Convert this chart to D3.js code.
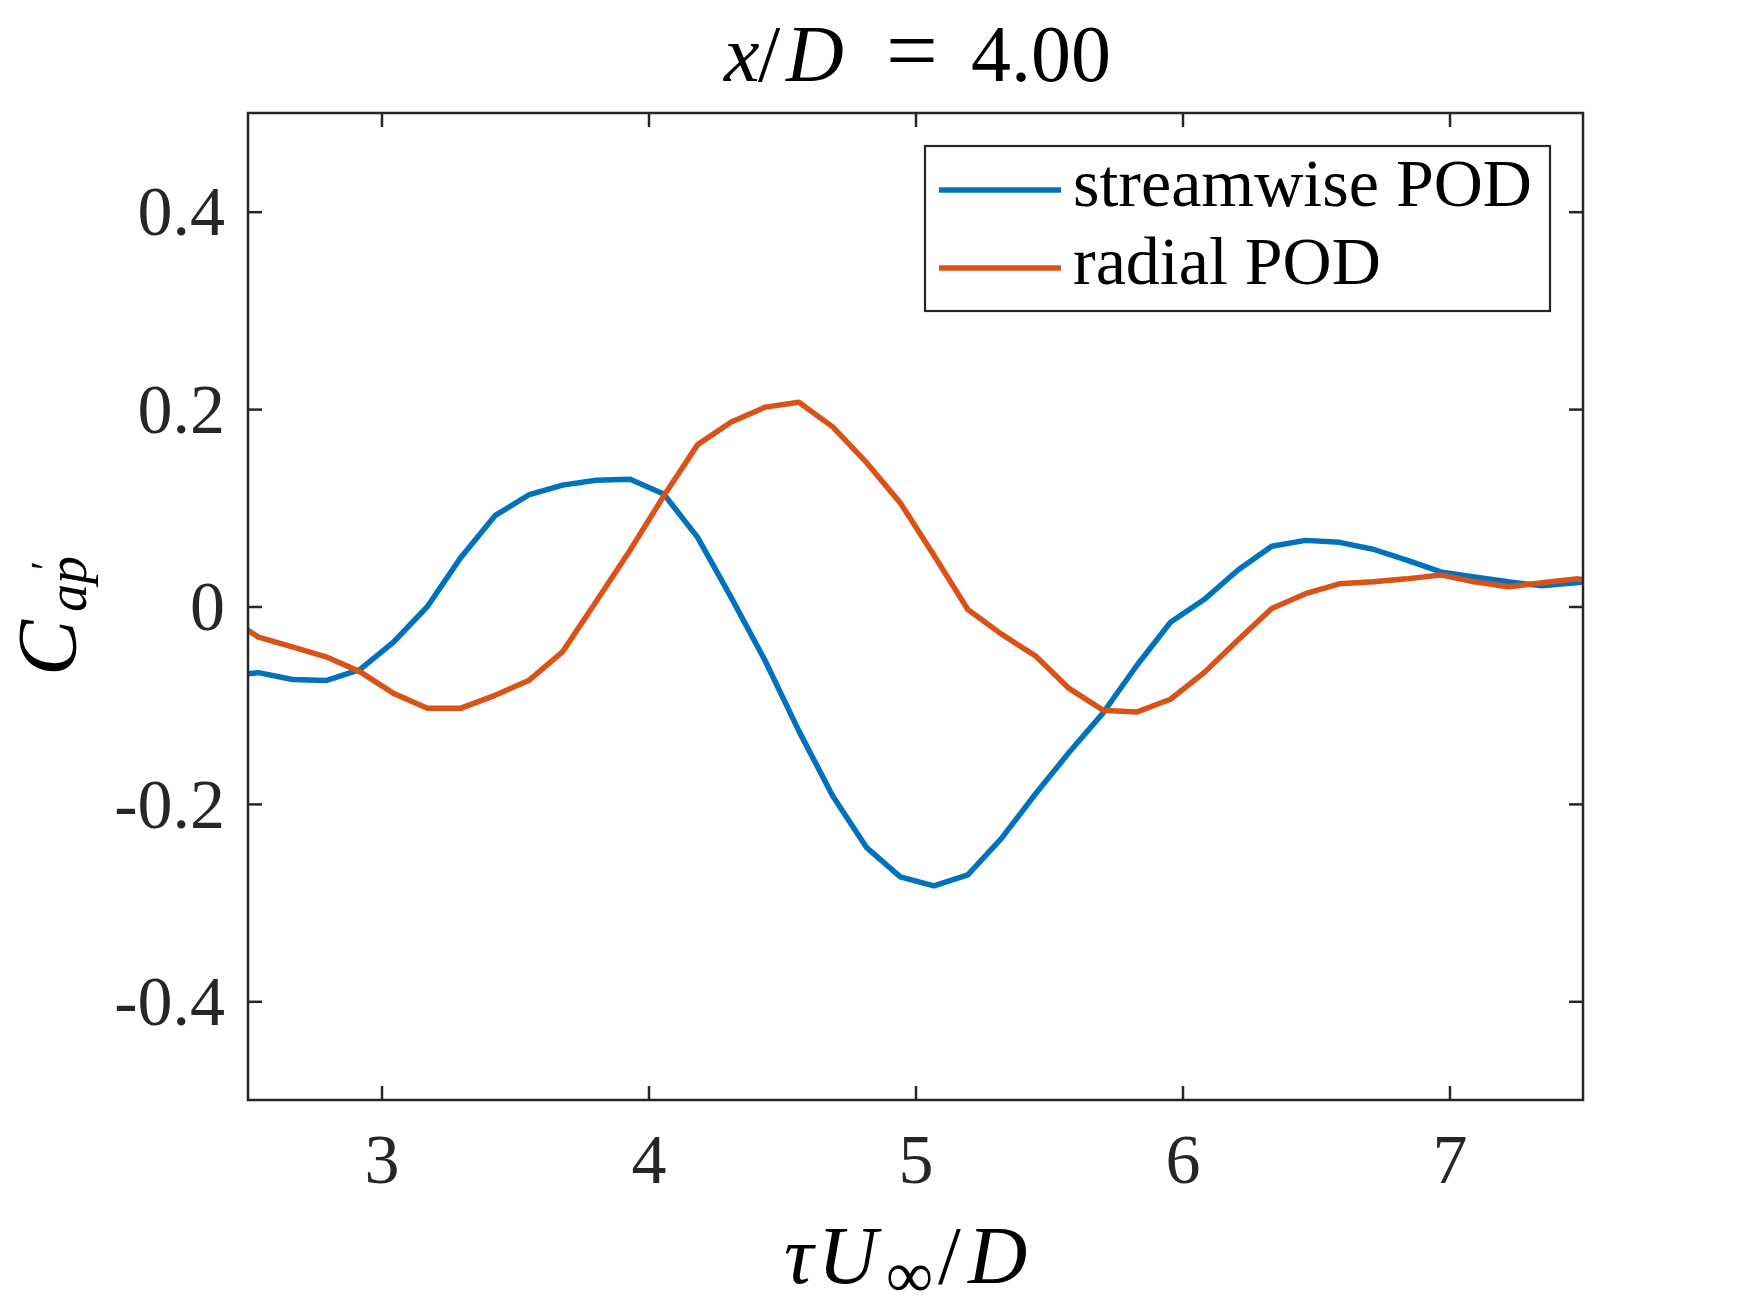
<!DOCTYPE html>
<html>
<head>
<meta charset="utf-8">
<script src="https://cdn.jsdelivr.net/npm/d3@7"></script>
<style>
  body { margin: 0; background: #fff; }
  text { font-family: "Liberation Serif", "DejaVu Serif", serif; }
</style>
</head>
<body>
<script>
// time lag tau*U/D (samples, the first and last fall just outside the axis)
const tau = [2.413, 2.539, 2.666, 2.792, 2.919, 3.045, 3.172, 3.298, 3.425, 3.551,
  3.678, 3.804, 3.931, 4.057, 4.184, 4.310, 4.437, 4.563, 4.690, 4.816,
  4.943, 5.069, 5.196, 5.322, 5.449, 5.575, 5.702, 5.828, 5.955, 6.081,
  6.208, 6.334, 6.461, 6.587, 6.714, 6.840, 6.967, 7.093, 7.220, 7.346,
  7.473, 7.599];

const streamwise = [-0.071, -0.067, -0.074, -0.075, -0.064, -0.036, 0.000, 0.050, 0.092, 0.113,
  0.123, 0.128, 0.129, 0.114, 0.070, 0.009, -0.055, -0.126, -0.192, -0.244,
  -0.274, -0.283, -0.272, -0.235, -0.190, -0.148, -0.108, -0.060, -0.016, 0.007,
  0.037, 0.061, 0.067, 0.065, 0.058, 0.047, 0.035, 0.030, 0.025, 0.021,
  0.024, 0.028];

const radial = [-0.009, -0.031, -0.041, -0.051, -0.066, -0.088, -0.103, -0.103, -0.090, -0.075,
  -0.046, 0.005, 0.057, 0.112, 0.164, 0.187, 0.202, 0.207, 0.182, 0.146,
  0.105, 0.052, -0.003, -0.028, -0.050, -0.083, -0.105, -0.107, -0.094, -0.067,
  -0.034, -0.002, 0.013, 0.023, 0.025, 0.028, 0.032, 0.025, 0.020, 0.024,
  0.028, 0.025];

const seriesNames = ["streamwise POD", "radial POD"];
const seriesColors = ["#0072BD", "#D95319"];
const xTicks = [3, 4, 5, 6, 7];
const yTicks = [-0.4, -0.2, 0, 0.2, 0.4];

const width = 1750;
const height = 1313;
const margin = { top: 113, right: 167, bottom: 213, left: 248 };
const axisColor = "#262626";

const svg = d3.select("body").append("svg")
    .attr("width", width)
    .attr("height", height)
    .attr("viewBox", [0, 0, width, height]);

const x = d3.scaleLinear()
    .domain([2.5, 7.5])
    .range([margin.left, width - margin.right]);

const y = d3.scaleLinear()
    .domain([-0.5, 0.5])
    .range([height - margin.bottom, margin.top]);

// clip the curves to the axes box
svg.append("defs").append("clipPath")
    .attr("id", "plotClip")
  .append("rect")
    .attr("x", x.range()[0])
    .attr("y", y.range()[1])
    .attr("width", x.range()[1] - x.range()[0])
    .attr("height", y.range()[0] - y.range()[1]);

const line = d3.line()
    .x(d => x(d[0]))
    .y(d => y(d[1]));

const series = [streamwise, radial].map((vals, i) => ({
  name: seriesNames[i],
  color: seriesColors[i],
  points: vals.map((v, j) => [tau[j], v])
}));

svg.append("g")
    .attr("clip-path", "url(#plotClip)")
  .selectAll("path")
  .data(series)
  .join("path")
    .attr("fill", "none")
    .attr("stroke", d => d.color)
    .attr("stroke-width", 5.5)
    .attr("stroke-linejoin", "round")
    .attr("d", d => line(d.points));

// axes, ticks pointing inward on all four sides
const tickLen = 14;

const xAxis = svg.append("g")
    .attr("transform", `translate(0,${y.range()[0]})`)
    .call(d3.axisBottom(x).tickValues(xTicks).tickSize(-tickLen).tickSizeOuter(0)
      .tickFormat(d => String(d)));
xAxis.selectAll("text")
    .attr("y", 83)
    .attr("dy", null)
    .attr("font-size", 70);

svg.append("g")
    .attr("transform", `translate(0,${y.range()[1]})`)
    .call(d3.axisTop(x).tickValues(xTicks).tickSize(-tickLen).tickSizeOuter(0).tickFormat(""));

const yAxis = svg.append("g")
    .attr("transform", `translate(${x.range()[0]},0)`)
    .call(d3.axisLeft(y).tickValues(yTicks).tickSize(-tickLen).tickSizeOuter(0)
      .tickPadding(23).tickFormat(d => String(d)));
yAxis.selectAll("text")
    .attr("dy", "0.33em")
    .attr("font-size", 70);

svg.append("g")
    .attr("transform", `translate(${x.range()[1]},0)`)
    .call(d3.axisRight(y).tickValues(yTicks).tickSize(-tickLen).tickSizeOuter(0).tickFormat(""));

svg.selectAll(".domain").remove();
svg.selectAll(".tick line")
    .attr("stroke", axisColor)
    .attr("stroke-width", 2.5);
svg.selectAll(".tick text")
    .attr("fill", axisColor)
    .attr("font-family", "Liberation Serif");

svg.append("rect")
    .attr("x", x.range()[0])
    .attr("y", y.range()[1])
    .attr("width", x.range()[1] - x.range()[0])
    .attr("height", y.range()[0] - y.range()[1])
    .attr("fill", "none")
    .attr("stroke", axisColor)
    .attr("stroke-width", 2.5);

// title, pieces spaced like the LaTeX math layout
const title = svg.append("text")
    .attr("y", 81)
    .attr("font-size", 80)
    .attr("fill", "#000");
title.append("tspan").attr("x", 724).attr("font-style", "italic").text("x");
title.append("tspan").attr("x", 758).text("/");
title.append("tspan").attr("x", 786).attr("font-style", "italic").text("D");
title.append("tspan").attr("x", 886).attr("font-size", 92).text("=");
title.append("tspan").attr("x", 971).text("4.00");

// x label
const xLabel = svg.append("text")
    .attr("y", 1283)
    .attr("font-size", 82)
    .attr("fill", "#000");
xLabel.append("tspan").attr("x", 784).attr("font-style", "italic").text("τ");
xLabel.append("tspan").attr("x", 818).attr("font-style", "italic").text("U");
xLabel.append("tspan").attr("x", 886).attr("dy", 14).attr("font-size", 66).text("∞");
xLabel.append("tspan").attr("x", 938).attr("dy", -14).text("/");
xLabel.append("tspan").attr("x", 968).attr("font-style", "italic").text("D");

// y label (rotated frame: x' = -screen y)
const yLabel = svg.append("text")
    .attr("transform", "translate(76,0) rotate(-90)")
    .attr("fill", "#000");
yLabel.append("tspan").attr("x", -676).attr("font-size", 84).attr("font-style", "italic").text("C");
yLabel.append("tspan").attr("x", -612).attr("dy", 10).attr("font-size", 56).attr("font-style", "italic").text("ap");
yLabel.append("tspan").attr("x", -570).attr("dy", -26).attr("font-size", 42).text("′");

// legend
const legend = svg.append("g");
legend.append("rect")
    .attr("x", 925)
    .attr("y", 146)
    .attr("width", 625)
    .attr("height", 165)
    .attr("fill", "#fff")
    .attr("stroke", axisColor)
    .attr("stroke-width", 2.2);

const rows = legend.selectAll("g.row")
  .data(series)
  .join("g")
    .attr("class", "row")
    .attr("transform", (d, i) => `translate(0,${190 + i * 78})`);

rows.append("line")
    .attr("x1", 939)
    .attr("x2", 1061)
    .attr("stroke", d => d.color)
    .attr("stroke-width", 5.5);

rows.append("text")
    .attr("x", 1073)
    .attr("y", 16)
    .attr("font-size", 68)
    .attr("fill", "#000")
    .text(d => d.name);
</script>
</body>
</html>
